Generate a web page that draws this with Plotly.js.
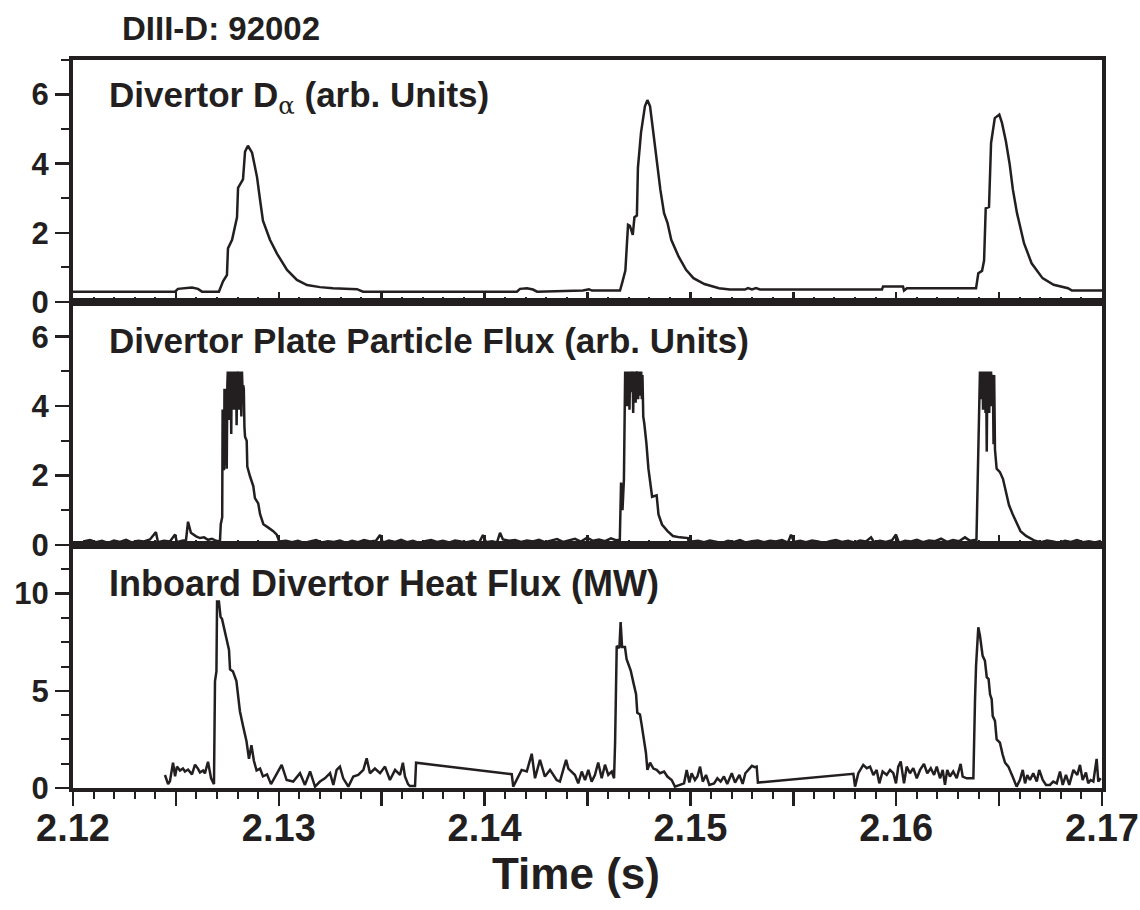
<!DOCTYPE html>
<html>
<head>
<meta charset="utf-8">
<script src="https://cdn.plot.ly/plotly-3.0.1.min.js"></script>
<style>html,body{margin:0;padding:0;background:#fff;}#chart{width:1140px;height:910px;}</style>
</head>
<body>
<div id="chart"></div>
<script>
// ---- Data (times in ms, converted to seconds below) ----
var dalphaTimeMs = [2120.00,2124.96,2125.10,2125.44,2125.78,2126.07,2126.27,2127.09,2127.29,2127.48,2127.53,2127.73,2127.97,2128.02,2128.26,2128.36,2128.50,2128.70,2128.94,2129.09,2129.23,2129.57,2129.91,2130.40,2130.88,2131.37,2132.00,2132.63,2133.80,2134.09,2141.57,2141.72,2142.06,2142.35,2142.55,2144.78,2145.07,2145.22,2146.58,2146.70,2146.84,2146.97,2147.06,2147.20,2147.28,2147.40,2147.45,2147.60,2147.79,2147.91,2148.04,2148.18,2148.36,2148.54,2148.72,2148.89,2149.07,2149.43,2149.79,2150.15,2150.68,2151.39,2151.92,2152.65,2152.80,2152.99,2153.19,2153.38,2159.31,2159.36,2160.33,2160.38,2160.52,2163.88,2163.99,2164.17,2164.27,2164.35,2164.51,2164.61,2164.79,2165.01,2165.14,2165.33,2165.51,2165.67,2165.87,2166.21,2166.58,2167.11,2167.65,2168.35,2168.54,2170.00];
var dalphaValue = [0.30,0.30,0.38,0.40,0.42,0.38,0.30,0.30,0.60,0.78,1.55,1.80,2.45,3.30,3.55,4.35,4.52,4.32,3.62,2.95,2.35,1.80,1.40,0.93,0.64,0.49,0.43,0.40,0.37,0.30,0.30,0.38,0.40,0.36,0.30,0.33,0.37,0.33,0.33,0.59,0.91,2.23,2.20,1.94,2.45,2.50,3.88,4.90,5.66,5.84,5.66,4.99,4.12,3.25,2.57,2.28,1.80,1.31,0.93,0.69,0.52,0.40,0.36,0.36,0.40,0.36,0.40,0.36,0.36,0.45,0.45,0.33,0.40,0.40,0.83,0.90,1.20,2.71,2.75,4.60,5.32,5.42,5.18,4.65,4.00,3.25,2.57,1.70,1.12,0.69,0.50,0.40,0.33,0.33];

var particleTimeMs = [2120.49,2120.83,2121.12,2121.41,2121.70,2121.99,2122.28,2122.58,2122.87,2123.16,2123.45,2123.74,2124.03,2124.13,2124.42,2124.71,2124.96,2125.05,2125.30,2125.49,2125.59,2125.73,2125.98,2126.17,2126.37,2126.56,2126.75,2126.95,2127.14,
  2127.18,2127.25,2127.27,2127.30,2127.34,2127.36,2127.39,2127.43,2127.47,2127.50,2127.52,2127.55,2127.57,2127.59,2127.62,2127.64,2127.66,2127.69,2127.71,2127.74,2127.77,2127.79,2127.82,2127.85,2127.87,2127.90,2127.92,2127.95,2127.98,2128.01,2128.03,2128.06,2128.09,2128.12,2128.15,2128.18,2128.21,2128.24,2128.27,2128.30,2128.33,2128.36,
  2128.44,2128.47,2128.60,2128.76,2128.84,2129.00,2129.09,2129.25,2129.49,2129.73,2129.90,2130.02,2130.35,2130.64,2130.93,2131.22,2131.52,2131.81,2132.10,2132.39,2132.68,2132.97,2133.27,2133.56,2133.85,2134.14,2134.43,2134.72,2134.92,2135.06,2135.35,2135.65,2135.94,2136.23,2136.52,2136.81,2137.10,2137.40,2137.69,2137.98,2138.27,2138.56,2138.85,2139.14,2139.44,2139.73,2139.92,2140.07,2140.36,2140.60,2140.75,2140.89,2141.19,2141.48,2141.77,2142.06,2142.35,2142.64,2142.93,2143.23,2143.52,2143.81,2144.10,2144.39,2144.68,2144.98,2145.27,2145.56,2145.85,2146.14,2146.38,2146.57,
  2146.63,2146.70,2146.77,2146.80,2146.83,2146.86,2146.89,2146.92,2146.95,2146.98,2147.01,2147.04,2147.07,2147.10,2147.13,2147.16,2147.19,2147.22,2147.25,2147.28,2147.31,2147.34,2147.37,2147.40,2147.43,2147.46,2147.49,2147.52,2147.55,2147.58,2147.61,2147.64,2147.67,2147.71,2147.76,
  2147.86,2147.96,2148.14,2148.36,2148.45,2148.62,2148.89,2149.15,2149.49,2149.88,2149.93,2150.08,2150.37,2150.66,2150.95,2151.24,2151.53,2151.83,2152.12,2152.41,2152.70,2152.99,2153.28,2153.58,2153.87,2154.16,2154.45,2154.74,2154.89,2155.03,2155.33,2155.62,2155.91,2156.20,2156.49,2156.78,2157.07,2157.37,2157.66,2157.95,2158.24,2158.53,2158.78,2158.92,2159.21,2159.50,2159.80,2159.99,2160.14,2160.43,2160.72,2161.01,2161.30,2161.59,2161.89,2162.18,2162.47,2162.76,2163.05,2163.34,2163.59,2163.90,
  2163.96,2164.00,2164.04,2164.07,2164.10,2164.13,2164.16,2164.19,2164.22,2164.25,2164.28,2164.31,2164.34,2164.37,2164.40,2164.43,2164.46,2164.49,2164.52,2164.55,2164.58,2164.61,2164.64,2164.67,2164.70,2164.73,2164.76,2164.80,
  2164.88,2165.04,2165.19,2165.33,2165.48,2165.65,2165.87,2166.04,2166.31,2166.74,2167.04,2167.33,2167.62,2167.91,2168.20,2168.49,2168.78,2169.08,2169.37,2169.66,2169.95];
var particleValue = [0.10,0.14,0.08,0.12,0.06,0.13,0.09,0.15,0.07,0.12,0.10,0.16,0.37,0.08,0.12,0.10,0.30,0.08,0.12,0.14,0.67,0.35,0.25,0.20,0.22,0.15,0.18,0.12,0.10,
  0.60,0.80,3.90,2.20,2.16,4.50,2.30,4.50,2.20,4.60,5.00,4.10,5.00,3.60,5.00,4.40,5.00,3.20,5.00,3.90,5.00,4.50,5.00,3.90,5.00,4.20,5.00,3.45,5.00,4.60,5.00,3.90,5.00,4.30,5.00,3.70,5.00,4.40,4.60,4.50,3.40,3.12,
  3.00,2.26,1.98,1.70,1.35,1.20,0.89,0.60,0.50,0.40,0.30,0.10,0.12,0.08,0.12,0.06,0.10,0.14,0.07,0.11,0.09,0.13,0.06,0.12,0.08,0.14,0.10,0.12,0.29,0.07,0.13,0.09,0.15,0.08,0.12,0.06,0.11,0.14,0.09,0.12,0.07,0.13,0.10,0.08,0.12,0.06,0.29,0.08,0.11,0.07,0.35,0.16,0.12,0.14,0.09,0.13,0.10,0.15,0.08,0.12,0.17,0.09,0.13,0.18,0.10,0.21,0.12,0.16,0.11,0.19,0.14,0.15,
  1.80,1.00,1.90,4.70,5.00,4.20,5.00,4.00,5.00,4.50,5.00,3.90,5.00,4.40,5.00,4.60,5.00,3.80,5.00,4.40,5.00,4.10,5.00,4.60,5.00,4.20,5.00,4.30,5.00,4.50,5.00,4.20,4.90,3.70,3.50,
  2.94,2.20,1.39,1.43,0.88,0.59,0.40,0.26,0.22,0.20,0.05,0.10,0.12,0.08,0.13,0.10,0.06,0.12,0.09,0.14,0.07,0.11,0.13,0.08,0.12,0.10,0.14,0.07,0.30,0.09,0.12,0.08,0.13,0.10,0.06,0.11,0.14,0.09,0.12,0.07,0.13,0.10,0.22,0.08,0.12,0.09,0.14,0.30,0.06,0.12,0.10,0.15,0.08,0.13,0.11,0.18,0.09,0.14,0.11,0.22,0.12,0.15,
  1.73,3.00,4.60,5.00,4.20,5.00,4.40,5.00,3.90,5.00,4.50,5.00,3.80,5.00,2.69,5.00,4.30,5.00,3.80,5.00,4.40,5.00,4.00,4.90,4.60,2.90,4.90,2.75,
  2.20,2.10,1.90,1.49,1.15,0.90,0.60,0.40,0.26,0.12,0.08,0.13,0.10,0.06,0.12,0.09,0.14,0.08,0.11,0.07,0.12];

var heatTimeMs = [2124.47,2124.62,2124.71,2124.86,2124.96,2125.05,2125.20,2125.34,2125.44,2125.59,2125.78,2125.93,2126.07,2126.17,2126.32,2126.41,2126.56,2126.71,2126.85,2126.90,2126.97,2127.00,2127.09,2127.17,2127.24,2127.34,2127.46,2127.58,2127.63,2127.77,2127.94,2128.02,2128.11,2128.26,2128.43,2128.55,2128.67,2128.79,2128.92,2129.09,2129.23,2129.43,2129.62,2129.73,2130.14,2130.38,2130.70,2131.03,2131.27,2131.52,2131.76,2132.00,2132.24,2132.49,2132.65,2132.81,2132.97,2133.13,2133.38,2133.62,2133.86,2134.11,2134.27,2134.43,2134.67,2134.92,2135.16,2135.40,2135.65,2135.89,2136.03,2136.13,2136.28,2136.37,2136.62,2136.67,2141.32,2141.39,2141.56,2141.80,2142.05,2142.29,2142.45,2142.69,2142.93,2143.18,2143.50,2143.66,2143.82,2143.96,2144.07,2144.23,2144.39,2144.55,2144.72,2144.88,2145.04,2145.20,2145.36,2145.52,2145.69,2145.85,2146.01,2146.18,2146.29,2146.34,2146.42,2146.55,2146.61,2146.68,2146.82,2146.90,2147.03,2147.10,2147.23,2147.36,2147.42,2147.55,2147.63,2147.71,2147.84,2147.91,2148.04,2148.20,2148.36,2148.52,2148.72,2148.88,2149.09,2149.25,2149.49,2149.69,2149.82,2149.95,2150.06,2150.22,2150.34,2150.47,2150.60,2150.76,2150.92,2151.15,2151.31,2151.47,2151.63,2151.79,2152.01,2152.17,2152.38,2152.54,2152.67,2152.83,2152.99,2153.12,2153.22,2153.28,2157.84,2157.92,2158.00,2158.16,2158.40,2158.57,2158.73,2158.89,2159.05,2159.18,2159.34,2159.54,2159.70,2159.86,2159.99,2160.10,2160.22,2160.38,2160.51,2160.67,2160.83,2161.00,2161.16,2161.35,2161.51,2161.68,2161.84,2161.97,2162.13,2162.26,2162.37,2162.48,2162.61,2162.77,2162.94,2163.13,2163.23,2163.43,2163.67,2163.75,2163.83,2163.88,2163.99,2164.07,2164.20,2164.31,2164.40,2164.49,2164.56,2164.64,2164.69,2164.80,2164.88,2165.04,2165.17,2165.29,2165.45,2165.56,2165.69,2165.85,2166.01,2166.15,2166.26,2166.37,2166.50,2166.66,2166.83,2166.95,2167.12,2167.28,2167.47,2167.63,2167.80,2167.96,2168.09,2168.25,2168.41,2168.61,2168.80,2168.93,2169.06,2169.22,2169.33,2169.45,2169.58,2169.74,2169.82,2169.94];
var heatValue = [0.67,0.20,0.35,1.30,0.60,1.10,0.90,1.00,0.85,0.95,0.70,1.20,1.00,0.80,0.90,0.75,1.35,0.50,0.20,5.50,6.00,9.60,9.60,8.80,8.70,8.20,7.70,7.10,6.10,6.00,5.50,4.70,3.95,3.20,2.40,1.50,2.20,1.40,0.90,1.00,0.60,0.70,0.20,0.41,1.19,0.41,0.33,0.76,0.16,0.85,0.07,0.33,0.50,0.76,0.16,0.93,1.10,0.50,0.07,0.59,0.67,0.93,1.53,0.76,1.00,0.76,1.10,0.41,0.93,0.67,1.30,0.60,0.20,0.10,0.10,1.30,0.71,0.07,0.41,0.93,0.85,1.76,0.50,1.45,0.59,0.93,0.41,0.33,0.93,1.45,1.00,0.85,0.67,0.24,0.85,0.41,0.93,0.33,0.67,1.31,0.50,1.20,0.67,0.85,0.50,2.30,7.30,7.20,8.53,7.25,7.25,6.63,6.30,6.04,5.42,4.82,3.87,3.78,3.26,2.66,1.80,0.93,1.30,1.00,0.93,0.76,0.85,0.59,0.41,0.07,0.16,0.24,0.93,0.28,0.76,0.41,0.59,1.10,0.33,0.67,0.16,0.24,0.50,0.33,0.59,0.21,0.76,0.28,0.67,0.21,0.76,0.93,1.14,1.07,1.10,0.28,0.73,0.73,0.07,0.76,1.19,1.02,1.10,0.67,0.93,0.24,0.85,0.67,0.93,0.76,0.24,1.10,1.36,0.24,1.10,0.76,1.02,0.50,0.93,1.24,0.76,1.02,0.67,1.10,0.50,0.93,0.16,0.93,0.59,0.85,0.50,1.24,0.59,0.50,0.50,0.50,4.56,6.28,8.27,7.84,6.80,6.55,5.70,5.60,4.82,4.56,3.70,3.45,2.50,2.33,1.73,1.30,1.10,0.85,0.50,0.07,0.41,0.93,0.24,0.67,0.41,0.76,0.33,0.93,0.41,0.16,0.16,0.33,0.24,0.85,0.16,0.67,0.16,0.93,0.67,1.19,0.41,0.80,0.24,0.41,0.33,1.50,0.33,0.50];

var panelLabels = ['Divertor D<sub><span style="font-family:\'DejaVu Serif\',serif;font-weight:normal">α</span></sub> (arb. Units)', 'Divertor Plate Particle Flux (arb. Units)', 'Inboard Divertor Heat Flux (MW)'];
var shotLabel = 'DIII-D: 92002';
var xAxisLabel = 'Time (s)';

// ---- Build ----
function toSec(a){ return a.map(function(v){ return v/1000; }); }
var INK = '#231f20';
var FONT = "'Liberation Sans', Arial, sans-serif";
var lineStyle = {color: INK, width: 2.5};

var traces = [
  {x: toSec(dalphaTimeMs), y: dalphaValue, xaxis: 'x', yaxis: 'y', mode: 'lines', line: lineStyle, hoverinfo: 'skip'},
  {x: toSec(particleTimeMs), y: particleValue, xaxis: 'x2', yaxis: 'y2', mode: 'lines', line: lineStyle, hoverinfo: 'skip'},
  {x: toSec(heatTimeMs), y: heatValue, xaxis: 'x3', yaxis: 'y3', mode: 'lines', line: lineStyle, hoverinfo: 'skip'}
];

var d1 = 243/728, d2 = 486/728;
function xAx(anchor, bottom){
  return {
    anchor: anchor, range: [2.1199999, 2.1700001], showgrid: false, zeroline: false,
    showline: true, linewidth: 4, linecolor: INK, mirror: true,
    tickmode: 'linear', tick0: 2.12, dtick: 0.005,
    ticks: bottom ? 'outside' : 'inside', ticklen: bottom ? 14 : 10, tickwidth: 2.5, tickcolor: INK,
    showticklabels: bottom, ticklabelstep: 2, tickformat: '.2f', ticklabelstandoff: -11,
    tickfont: {family: FONT, size: 38, color: INK, weight: 'bold'},
    minor: {tickmode: 'linear', tick0: 2.12, dtick: 0.001, ticks: bottom ? 'outside' : 'inside', ticklen: bottom ? 7 : 5, tickwidth: 2, tickcolor: INK, showgrid: false},
    fixedrange: true
  };
}
function yAx(domain, range, dtick, minorDtick){
  return {
    domain: domain, range: range, showgrid: false, zeroline: false,
    showline: true, linewidth: 4, linecolor: INK, mirror: true,
    tickmode: 'linear', tick0: 0, dtick: dtick,
    ticks: 'outside', ticklen: 14, tickwidth: 2.5, tickcolor: INK,
    tickfont: {family: FONT, size: 31, color: INK, weight: 'bold'},
    minor: {tickmode: 'linear', tick0: 0, dtick: minorDtick, ticks: 'outside', ticklen: 8, tickwidth: 2, tickcolor: INK, showgrid: false},
    fixedrange: true
  };
}

var annFont = {family: FONT, size: 35, color: INK, weight: 'bold'};
var layout = {
  width: 1140, height: 910,
  margin: {l: 73, r: 38, t: 60, b: 122},
  paper_bgcolor: '#ffffff', plot_bgcolor: '#ffffff',
  showlegend: false,
  xaxis: xAx('y', false),
  xaxis2: xAx('y2', false),
  xaxis3: xAx('y3', true),
  yaxis: yAx([d2, 1], [0, 7], 2, 1),
  yaxis2: yAx([d1, d2], [0, 7], 2, 1),
  yaxis3: yAx([0, d1], [0, 12.5], 5, 1.25),
  annotations: [
    {xref: 'paper', yref: 'paper', x: (107-73)/1029, y: (788-97)/728, xanchor: 'left', yanchor: 'middle', text: panelLabels[0], showarrow: false, font: annFont},
    {xref: 'paper', yref: 'paper', x: (107-73)/1029, y: (788-340)/728, xanchor: 'left', yanchor: 'middle', text: panelLabels[1], showarrow: false, font: annFont},
    {xref: 'paper', yref: 'paper', x: (107-73)/1029, y: (788-583)/728, xanchor: 'left', yanchor: 'middle', text: panelLabels[2], showarrow: false, font: {family: FONT, size: 36, color: INK, weight: 'bold'}},
    {xref: 'paper', yref: 'paper', x: (120-73)/1029, y: (788-29)/728, xanchor: 'left', yanchor: 'middle', text: shotLabel, showarrow: false, font: {family: FONT, size: 33, color: INK, weight: 'bold'}},
    {xref: 'paper', yref: 'paper', x: (576-73)/1029, y: (788-873)/728, xanchor: 'center', yanchor: 'middle', text: xAxisLabel, showarrow: false, font: {family: FONT, size: 44, color: INK, weight: 'bold'}}
  ]
};
layout.xaxis2.matches = 'x'; layout.xaxis3.matches = 'x';
layout.yaxis.anchor = 'x'; layout.yaxis2.anchor = 'x2'; layout.yaxis3.anchor = 'x3';

Plotly.newPlot('chart', traces, layout, {staticPlot: true, displayModeBar: false});
</script>
</body>
</html>
